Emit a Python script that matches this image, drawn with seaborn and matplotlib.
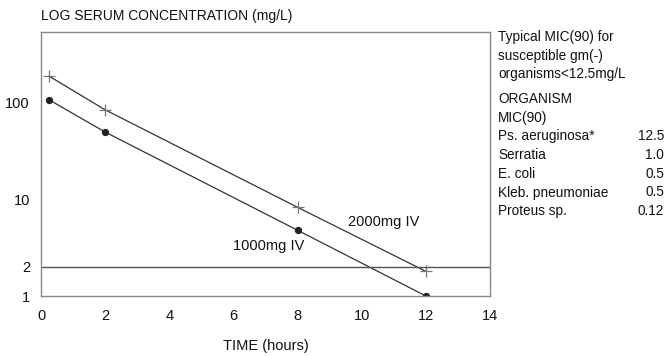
import matplotlib
matplotlib.use("Agg")
import matplotlib.pyplot as plt
from matplotlib import font_manager
import seaborn as sns
import pandas as pd

# ---- data ----
time_2000 = [0.25, 2, 8, 12]
conc_2000 = [190, 85, 8.3, 1.8]
time_1000 = [0.25, 2, 8, 12]
conc_1000 = [108, 50, 4.8, 1.0]
mic_line = 2
x_ticks = [0, 2, 4, 6, 8, 10, 12, 14]
y_ticks = [1, 2, 10, 100]
y_tick_labels = ["1", "2", "10", "100"]
note_lines = ["Typical MIC(90) for", "susceptible gm(-)", "organisms<12.5mg/L"]
organisms = ["Ps. aeruginosa*", "Serratia", "E. coli", "Kleb. pneumoniae", "Proteus sp."]
mic_values = ["12.5", "1.0", "0.5", "0.5", "0.12"]

sns.set_style("white")
names = {f.name for f in font_manager.fontManager.ttflist}
fam = "Liberation Sans Narrow" if "Liberation Sans Narrow" in names else "Liberation Sans"
plt.rcParams["font.family"] = [fam, "DejaVu Sans"]

W, H = 665, 356
fig = plt.figure(figsize=(W / 100, H / 100), dpi=100)
L, R, T, B = 41, 490, 32, 296
ax = fig.add_axes([L / W, 1 - B / H, (R - L) / W, (B - T) / H])

df2000 = pd.DataFrame({"t": time_2000, "c": conc_2000})
df1000 = pd.DataFrame({"t": time_1000, "c": conc_1000})

line_col = "#333333"
sns.lineplot(data=df2000, x="t", y="c", ax=ax, color=line_col, lw=0.9,
             marker="+", markersize=9, markeredgecolor="#777777", markeredgewidth=0.9)
sns.lineplot(data=df1000, x="t", y="c", ax=ax, color=line_col, lw=0.9,
             marker="o", markersize=4.5, markeredgecolor="#222222", markerfacecolor="#222222")
ax.axhline(mic_line, color="#555555", lw=1)

ax.set_yscale("log")
ax.set_ylim(1, 10 ** (264 / 96.5))
ax.set_xlim(0, 14)
ax.set_xticks(x_ticks)
ax.set_xticklabels([str(v) for v in x_ticks])
ax.set_yticks(y_ticks)
ax.set_yticklabels(y_tick_labels)
ax.minorticks_off()
ax.tick_params(axis="both", length=0, labelsize=10.5, colors="#111111")
ax.tick_params(axis="x", pad=9)
ax.tick_params(axis="y", pad=8)
for s in ax.spines.values():
    s.set_color("#888888")
    s.set_linewidth(1)
ax.set_xlabel("TIME (hours)", fontsize=10.5, labelpad=12, color="#111111")
ax.set_ylabel("")

ax.text(10.7, 5.8, "2000mg IV", fontsize=10.5, ha="center", va="center", color="#111111")
ax.text(7.1, 3.3, "1000mg IV", fontsize=10.5, ha="center", va="center", color="#111111")

fig.text(L / W, 1 - 16 / H, "LOG SERUM CONCENTRATION (mg/L)", fontsize=10,
         ha="left", va="center", color="#111111")

tx = 498 / W
step = 18.7
y0 = 37
for i, s in enumerate(note_lines):
    fig.text(tx, 1 - (y0 + i * step) / H, s, fontsize=9.8, ha="left", va="center", color="#111111")
y1 = 99
fig.text(tx, 1 - y1 / H, "ORGANISM", fontsize=9.8, ha="left", va="center", color="#111111")
fig.text(tx, 1 - (y1 + step) / H, "MIC(90)", fontsize=9.8, ha="left", va="center", color="#111111")
for i, (o, v) in enumerate(zip(organisms, mic_values)):
    yy = 1 - (y1 + (i + 2) * step) / H
    fig.text(tx, yy, o, fontsize=9.8, ha="left", va="center", color="#111111")
    fig.text(664 / W, yy, v, fontsize=9.8, ha="right", va="center", color="#111111")

fig.savefig("out.png", dpi=100)
